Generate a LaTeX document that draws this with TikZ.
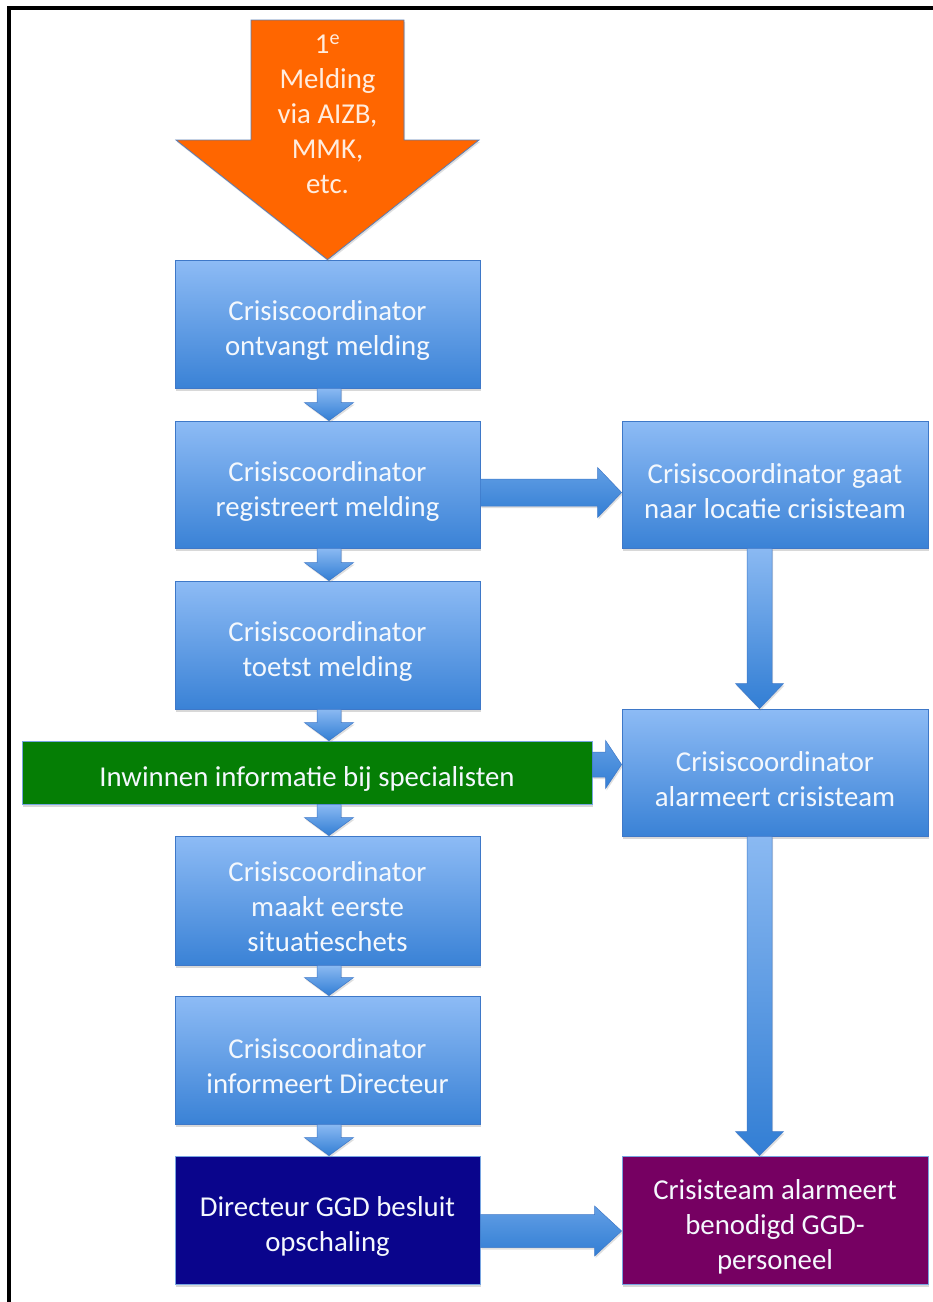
\documentclass[tikz,border=0pt]{standalone}
\usepackage{fontspec}
\setmainfont{Carlito}
\usetikzlibrary{calc,shadows}

\definecolor{boxtop}{RGB}{141,187,245}
\definecolor{boxbot}{RGB}{58,130,214}
\definecolor{boxline}{RGB}{62,120,200}
\definecolor{arrtop}{RGB}{138,185,242}
\definecolor{arrbot}{RGB}{50,126,212}
\definecolor{orangefill}{RGB}{255,102,0}
\definecolor{orangeedge}{RGB}{90,125,180}
\definecolor{orangetext}{RGB}{255,236,222}
\definecolor{greenfill}{RGB}{5,126,5}
\definecolor{navyfill}{RGB}{10,5,140}
\definecolor{purplefill}{RGB}{118,0,98}
\definecolor{paletext}{RGB}{244,248,253}
\definecolor{lightedge}{RGB}{120,165,225}

\tikzset{
  boxtext/.style={align=center, text=paletext, inner sep=0pt,
    font=\fontsize{28.8}{35}\selectfont, yshift=-6.5pt},
  txt/.style={label={[boxtext]center:{#1}}},
  base/.style={minimum width=305pt, minimum height=128pt, inner sep=0pt,
    drop shadow={opacity=0.3, shadow xshift=1pt, shadow yshift=-3pt}},
  bluebox/.style={base, draw=boxline, line width=0.8pt,
    top color=boxtop, bottom color=boxbot},
  flatbox/.style={base, draw=lightedge, line width=0.8pt},
  blockarrow/.style={draw=boxline, line width=0.5pt,
    drop shadow={opacity=0.25, shadow xshift=1pt, shadow yshift=-2pt}},
  varrowfill/.style={blockarrow, top color=arrtop, bottom color=arrbot},
  harrowfill/.style={blockarrow, top color=arrtop!55!arrbot, bottom color=arrbot},
}

% vertical block arrow: from node #1 (south) to node #2 (north)
% #3 shaft half width, #4 head half width, #5 head length, #6 x offset
\newcommand\varr[6]{%
  \shadedraw[varrowfill] let \p1=($(#1.south)+(#6,0)$), \p2=($(#2.north)+(#6,0)$) in
    (\x1-#3pt,\y1) -- (\x1+#3pt,\y1) -- (\x1+#3pt,\y2+#5pt) -- (\x1+#4pt,\y2+#5pt)
    -- (\x1,\y2) -- (\x1-#4pt,\y2+#5pt) -- (\x1-#3pt,\y2+#5pt) -- cycle;
}
% horizontal block arrow: from node #1 (east) to node #2 (west)
% #3 shaft half width, #4 head half width, #5 head length, #6 y offset (downwards)
\newcommand\harr[6]{%
  \shadedraw[harrowfill] let \p1=($(#1.east)+(0,#6)$), \p2=($(#2.west)+(0,#6)$) in
    (\x1,\y1+#3pt) -- (\x2-#5pt,\y1+#3pt) -- (\x2-#5pt,\y1+#4pt) -- (\x2,\y1)
    -- (\x2-#5pt,\y1-#4pt) -- (\x2-#5pt,\y1-#3pt) -- (\x1,\y1-#3pt) -- cycle;
}

\begin{document}
\begin{tikzpicture}[x=1pt,y=-1pt]
\useasboundingbox (0,0) rectangle (933,1302);
\fill[white] (0,0) rectangle (933,1302);

% frame
\draw[line width=4pt, line join=miter] (9,1302) -- (9,8) -- (933,8);

% left column
\node[bluebox, txt={Crisiscoordinator\\ontvangt melding}] (b1) at (327.5,324) {};
\node[bluebox, minimum height=127pt, txt={Crisiscoordinator\\registreert melding}] (b2) at (327.5,484.5) {};
\node[bluebox, txt={Crisiscoordinator\\toetst melding}] (b3) at (327.5,645) {};
\node[flatbox, fill=greenfill, minimum width=570pt, minimum height=63pt,
      txt={Inwinnen informatie bij specialisten}] (g) at (307,772.5) {};
\node[bluebox, minimum height=129pt, txt={Crisiscoordinator\\maakt eerste\\situatieschets}] (b4) at (327.5,900.5) {};
\node[bluebox, txt={Crisiscoordinator\\informeert Directeur}] (b5) at (327.5,1060) {};
\node[flatbox, fill=navyfill, txt={Directeur GGD besluit\\opschaling}] (b6) at (327.5,1220) {};

% right column
\node[bluebox, minimum width=306pt, minimum height=127pt,
      txt={Crisiscoordinator gaat\\naar locatie crisisteam}] (r1) at (775,484.5) {};
\node[bluebox, minimum width=306pt, minimum height=127pt,
      txt={Crisiscoordinator\\alarmeert crisisteam}] (r2) at (775,772.5) {};
\node[flatbox, fill=purplefill, minimum width=306pt,
      txt={Crisisteam alarmeert\\benodigd GGD-\\personeel}] (r3) at (775,1220) {};

% incoming report arrow
\path[fill=orangefill, draw=orangeedge, line width=0.8pt,
      drop shadow={opacity=0.25, shadow xshift=1pt, shadow yshift=-2pt}]
  (251,20) -- (404,20) -- (404,140) -- (479,140) -- (b1.north)
  -- (176,140) -- (251,140) -- cycle;
\node[align=center, text=orangetext, font=\fontsize{28.8}{35}\selectfont] (m0) at (327.5,114)
  {1\textsuperscript{e}\\Melding\\via AIZB,\\MMK,\\etc.};

% flow arrows, left column
\varr{b1}{b2}{12}{24.5}{18}{1.5}
\varr{b2}{b3}{12}{24.5}{18}{1.5}
\varr{b3}{g}{12}{24.5}{18}{1.5}
\varr{g}{b4}{12}{24.5}{18}{22}
\varr{b4}{b5}{12}{24.5}{18}{1.5}
\varr{b5}{b6}{12}{24.5}{18}{1.5}

% flow arrows, right column
\varr{r1}{r2}{12.5}{24}{25}{-15.5}
\varr{r2}{r3}{12.5}{24}{24}{-15.5}

% horizontal arrows
\harr{b2}{r1}{13.5}{25}{24}{8}
\harr{g}{r2}{12.5}{24}{16}{-8}
\harr{b6}{r3}{16.5}{25}{27}{11}
\end{tikzpicture}
\end{document}
